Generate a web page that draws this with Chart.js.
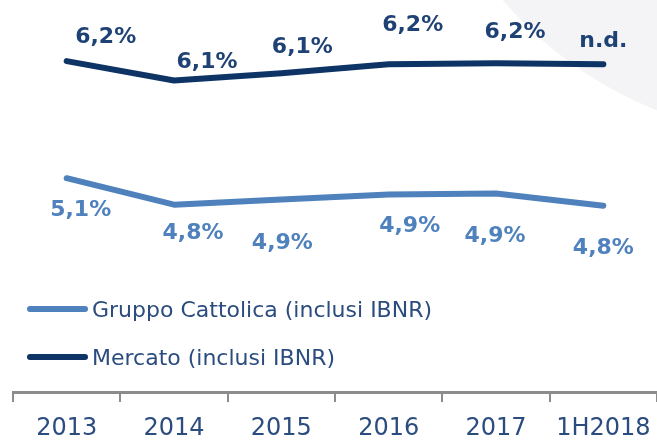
<!DOCTYPE html>
<html>
<head>
<meta charset="utf-8">
<script src="https://cdn.jsdelivr.net/npm/chart.js@4.4.0/dist/chart.umd.min.js"></script>
<style>
  html, body { margin: 0; padding: 0; background: #ffffff; }
  #wrap { width: 657px; height: 440px; position: relative; }
</style>
</head>
<body>
<div id="wrap"><canvas id="myChart" width="657" height="440"></canvas></div>
<script>
const categories = ["2013", "2014", "2015", "2016", "2017", "1H2018"];
const cattolicaValues = [5.10, 4.84, 4.89, 4.94, 4.95, 4.83];
const mercatoValues = [6.25, 6.06, 6.13, 6.22, 6.23, 6.22];
const cattolicaLabels = ["5,1%", "4,8%", "4,9%", "4,9%", "4,9%", "4,8%"];
const mercatoLabels = ["6,2%", "6,1%", "6,1%", "6,2%", "6,2%", "n.d."];

const lightBlue = "#4f81bd";
const navy = "#0e3466";
const navyText = "#1f4275";
const axisText = "#2b4c7e";

// light grey arc in the top right corner
const backdrop = {
  id: "backdrop",
  beforeDraw(chart) {
    const ctx = chart.ctx;
    ctx.save();
    ctx.fillStyle = "#f4f4f6";
    ctx.beginPath();
    ctx.arc(802, -256, 394, 0, Math.PI * 2);
    ctx.fill();
    ctx.restore();
  }
};

// value labels next to points (hand placed in the original slide)
const valueLabels = {
  id: "valueLabels",
  afterDatasetsDraw(chart, args, opts) {
    const ctx = chart.ctx;
    ctx.save();
    ctx.font = "bold 22px 'DejaVu Sans'";
    ctx.textAlign = "center";
    ctx.textBaseline = "alphabetic";
    opts.sets.forEach((s) => {
      const meta = chart.getDatasetMeta(s.index);
      ctx.fillStyle = s.color;
      meta.data.forEach((pt, i) => {
        ctx.fillText(s.labels[i], pt.x + s.dx[i], pt.y + s.dy[i] + 8);
      });
    });
    ctx.restore();
  }
};

// legend drawn inside the plot, under the lines
const innerLegend = {
  id: "innerLegend",
  afterDraw(chart) {
    const ctx = chart.ctx;
    ctx.save();
    ctx.font = "22px 'DejaVu Sans'";
    ctx.textBaseline = "alphabetic";
    chart.data.datasets.forEach((ds, i) => {
      const y = 309 + i * 48;
      ctx.strokeStyle = ds.borderColor;
      ctx.lineWidth = 6;
      ctx.lineCap = "round";
      ctx.beginPath();
      ctx.moveTo(30, y);
      ctx.lineTo(85, y);
      ctx.stroke();
      ctx.fillStyle = axisText;
      ctx.fillText(ds.label, 92, y + 8);
    });
    ctx.restore();
  }
};

new Chart("myChart", {
  type: "line",
  data: {
    labels: categories,
    datasets: [
      {
        label: "Gruppo Cattolica (inclusi IBNR)",
        data: cattolicaValues,
        borderColor: lightBlue,
        backgroundColor: lightBlue,
        borderWidth: 6,
        borderCapStyle: "round",
        borderJoinStyle: "round",
        pointRadius: 0,
        tension: 0
      },
      {
        label: "Mercato (inclusi IBNR)",
        data: mercatoValues,
        borderColor: navy,
        backgroundColor: navy,
        borderWidth: 6,
        borderCapStyle: "round",
        borderJoinStyle: "round",
        pointRadius: 0,
        tension: 0
      }
    ]
  },
  options: {
    responsive: false,
    animation: false,
    layout: { padding: { left: 13, right: 0, top: 0, bottom: 0 } },
    scales: {
      x: {
        offset: true,
        grid: {
          offset: true,
          drawOnChartArea: false,
          drawTicks: true,
          tickLength: 10,
          color: "#8c8c8c",
          lineWidth: 2
        },
        border: { display: true, color: "#8c8c8c", width: 3 },
        ticks: {
          color: axisText,
          padding: 15,
          font: { family: "'DejaVu Sans'", size: 24, lineHeight: 1 },
          maxRotation: 0
        },
        afterFit(scale) {
          scale.height = 48;
          scale.paddingLeft = 0;
          scale.paddingRight = 0;
        }
      },
      y: {
        display: false,
        min: 3.0,
        max: 6.85
      }
    },
    plugins: {
      legend: { display: false },
      tooltip: { enabled: false },
      valueLabels: {
        sets: [
          { index: 0, labels: cattolicaLabels, color: lightBlue,
            dx: [14, 19, 1, 21, -1, 0], dy: [30, 26, 41, 30, 41, 40] },
          { index: 1, labels: mercatoLabels, color: navyText,
            dx: [39, 33, 21, 24, 19, 0], dy: [-26, -20, -28, -41, -33, -25] }
        ]
      }
    }
  },
  plugins: [backdrop, valueLabels, innerLegend]
});
</script>
</body>
</html>
